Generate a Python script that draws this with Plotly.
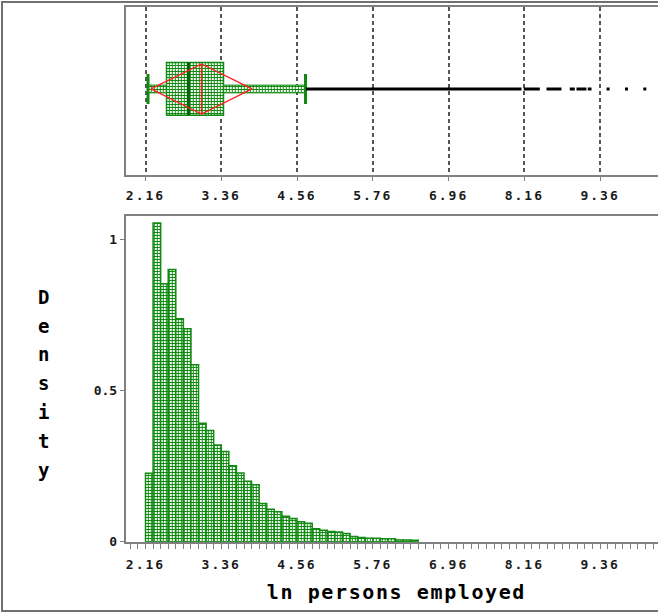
import plotly.graph_objects as go

# ---------------- data ----------------
bin_start = 2.16
bin_width = 0.12
density = [0.226, 1.054, 0.853, 0.900, 0.737, 0.704, 0.585, 0.392, 0.368, 0.320,
           0.298, 0.251, 0.227, 0.200, 0.188, 0.126, 0.107, 0.099, 0.084, 0.077,
           0.066, 0.061, 0.043, 0.038, 0.034, 0.032, 0.027, 0.017, 0.014, 0.011,
           0.011, 0.010, 0.010, 0.006, 0.006, 0.005]

box_low = 2.20
box_q1 = 2.493
box_median = 2.84
box_mean = 3.047
box_q3 = 3.395
box_high = 4.694
box_sd = 0.80

outlier_runs = [(4.70, 8.115), (8.151, 8.405), (8.511, 8.748), (8.880, 8.959),
                (8.986, 9.144), (9.165, 9.224)]
outlier_points = [9.487, 9.778, 10.068]

x_tick_labels = ["2.16", "3.36", "4.56", "5.76", "6.96", "8.16", "9.36"]
x_tick_vals = [float(t) for t in x_tick_labels]
y_tick_vals = [0, 0.5, 1]
y_tick_labels = ["0", "0.5", "1"]
x_title = "ln persons employed"
y_title = "Density"

# ---------------- style ----------------
W, H = 658, 614
GREEN = "#108a10"
DKGREEN = "#006400"
AXIS = "#808080"
FONT = "DejaVu Sans Mono"
pattern = dict(shape="+", fgcolor=GREEN, bgcolor="white", size=3, solidity=0.55,
               fillmode="replace")

x_range = [1.848, 10.277]
box_half = 0.314
diamond_half = 0.298
cap_half = 0.179
band_half = 0.046

fig = go.Figure()

# ---- box plot (top panel) ----
fig.add_trace(go.Bar(
    orientation="h", y=[0], base=[box_low], x=[box_high - box_low], width=2 * band_half,
    marker=dict(color="white", pattern=pattern, line=dict(color=GREEN, width=1)),
    xaxis="x", yaxis="y", showlegend=False, hoverinfo="skip"))
fig.add_trace(go.Bar(
    orientation="h", y=[0], base=[box_q1], x=[box_q3 - box_q1], width=2 * box_half,
    marker=dict(color="white", pattern=pattern, line=dict(color=GREEN, width=1.5)),
    xaxis="x", yaxis="y", showlegend=False, hoverinfo="skip"))
fig.add_trace(go.Scatter(
    x=[box_low, box_low, None, box_high, box_high],
    y=[-cap_half, cap_half, None, -cap_half, cap_half],
    mode="lines", line=dict(color=GREEN, width=3),
    xaxis="x", yaxis="y", showlegend=False, hoverinfo="skip"))
fig.add_trace(go.Scatter(
    x=[box_median, box_median], y=[-box_half, box_half],
    mode="lines", line=dict(color=DKGREEN, width=3),
    xaxis="x", yaxis="y", showlegend=False, hoverinfo="skip"))
fig.add_trace(go.Scatter(
    x=[box_mean - box_sd, box_mean, box_mean + box_sd, box_mean, box_mean - box_sd, None,
       box_mean, box_mean],
    y=[0, diamond_half, 0, -diamond_half, 0, None, -diamond_half, diamond_half],
    mode="lines", line=dict(color="#ff2020", width=1.4),
    xaxis="x", yaxis="y", showlegend=False, hoverinfo="skip"))
ox, oy = [], []
for a, b in outlier_runs:
    ox += [a, b, None]
    oy += [0, 0, None]
fig.add_trace(go.Scatter(
    x=ox, y=oy, mode="lines", line=dict(color="black", width=3),
    xaxis="x", yaxis="y", showlegend=False, hoverinfo="skip"))
fig.add_trace(go.Scatter(
    x=outlier_points, y=[0] * len(outlier_points), mode="markers",
    marker=dict(symbol="square", size=3, color="black", line=dict(width=0)),
    xaxis="x", yaxis="y", showlegend=False, hoverinfo="skip"))

# ---- histogram (bottom panel) ----
centers = [bin_start + bin_width * (i + 0.5) for i in range(len(density))]
fig.add_trace(go.Bar(
    x=centers, y=density, width=bin_width,
    marker=dict(color="white", pattern=pattern, line=dict(color=GREEN, width=1.5)),
    xaxis="x2", yaxis="y2", showlegend=False, hoverinfo="skip"))

tickfont = dict(family=FONT, size=13, color="#1a1a1a", weight="bold")
xdom = [125.8 / W, 1.0]

fig.update_layout(
    width=W, height=H, margin=dict(l=0, r=0, t=0, b=0),
    paper_bgcolor="white", plot_bgcolor="white", barmode="overlay",
    template=None, showlegend=False,
    xaxis=dict(domain=xdom, range=x_range, tickvals=x_tick_vals, ticktext=x_tick_labels,
               showgrid=True, gridcolor="#555555", griddash="4px,3px", gridwidth=1.5,
               showline=True, mirror=True, linecolor=AXIS, linewidth=2,
               ticks="outside", ticklen=4, tickcolor=AXIS, tickfont=tickfont,
               zeroline=False, anchor="y", automargin=False, ticklabelstandoff=3),
    yaxis=dict(domain=[1 - 175 / H, 1 - 7 / H], range=[-1.024, 0.976],
               showgrid=False, zeroline=False, showticklabels=False, ticks="",
               showline=True, linecolor=AXIS, linewidth=2, anchor="x", automargin=False),
    xaxis2=dict(domain=xdom, range=x_range, matches="x", tickvals=x_tick_vals,
                ticktext=x_tick_labels, showgrid=False,
                showline=True, mirror=True, linecolor=AXIS, linewidth=2,
                ticks="outside", ticklen=5, tickcolor=AXIS, tickfont=tickfont,
                minor=dict(ticks="outside", ticklen=5, tickcolor=AXIS, dtick=bin_width,
                           tick0=bin_start, showgrid=False),
                zeroline=False, anchor="y2", automargin=False, ticklabelstandoff=5),
    yaxis2=dict(domain=[1 - 541.7 / H, 1 - 216 / H], range=[0, 1.077],
                tickvals=y_tick_vals, ticktext=y_tick_labels, showgrid=False,
                zeroline=False, showline=True, linecolor=AXIS, linewidth=2,
                ticks="outside", ticklen=4, tickcolor=AXIS, tickfont=tickfont,
                anchor="x2", automargin=False),
)

# outer frame
fig.add_shape(type="rect", xref="paper", yref="paper", x0=2 / W, x1=1.02,
              y0=1 - 611 / H, y1=1 - 2 / H, line=dict(color="#707070", width=2),
              fillcolor="rgba(0,0,0,0)", layer="below")

# axis titles
fig.add_annotation(text=x_title, xref="paper", yref="paper", x=396 / W, y=1 - 592 / H,
                   showarrow=False, xanchor="center", yanchor="middle",
                   font=dict(family=FONT, size=20, color="black", weight="bold"))
top_px, bot_px = 296.7, 470.0
n = len(y_title)
for i, ch in enumerate(y_title):
    ypx = top_px + (bot_px - top_px) * i / (n - 1)
    fig.add_annotation(text=ch, xref="paper", yref="paper", x=43 / W, y=1 - ypx / H,
                       showarrow=False, xanchor="center", yanchor="middle",
                       font=dict(family=FONT, size=19, color="black", weight="bold"))

# wider letter spacing, as in the original bitmap font
post = """
document.querySelectorAll('g.xtick text, g.x2tick text').forEach(function(t){
  t.style.letterSpacing = '2px';
});
document.querySelectorAll('text.annotation-text').forEach(function(t){
  if (t.textContent.length > 1) { t.style.letterSpacing = '1.6px'; }
});
"""
fig.write_html("out.html", post_script=post)
